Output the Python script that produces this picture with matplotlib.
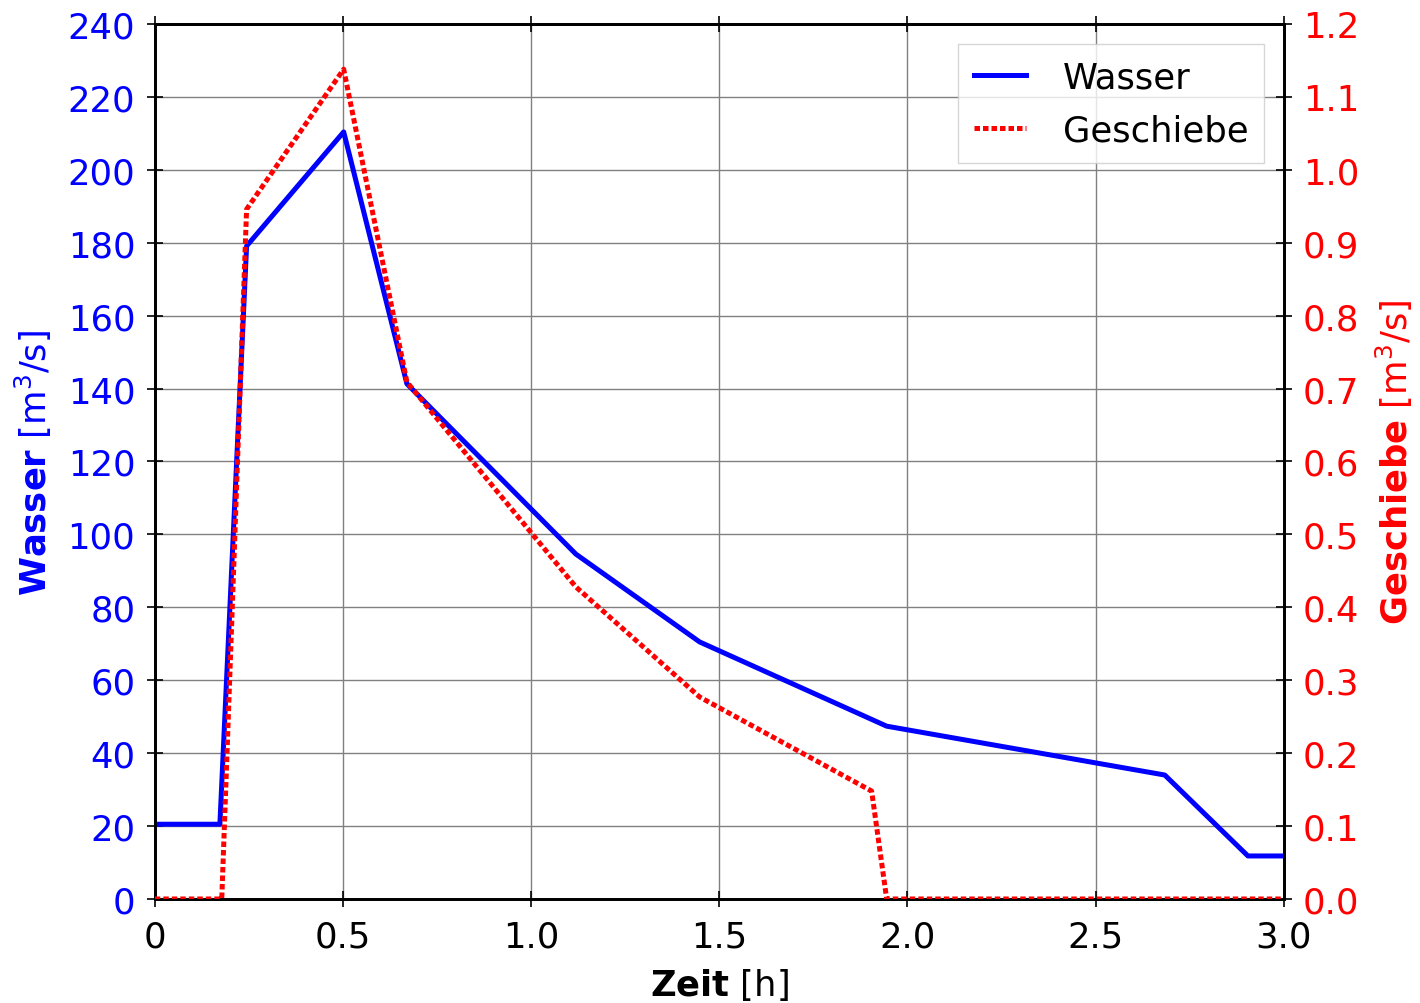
import numpy as np
import matplotlib
matplotlib.use("Agg")
import matplotlib.pyplot as plt

# Water discharge [m3/s]
t_wasser = [0.0, 0.173, 0.244, 0.502, 0.670, 1.119, 1.448, 1.945, 2.684, 2.905, 3.0]
q_wasser = [20.5, 20.5, 179.1, 210.4, 141.3, 94.6, 70.5, 47.4, 34.0, 11.8, 11.8]

# Bedload discharge [m3/s]
t_geschiebe = [0.0, 0.178, 0.244, 0.502, 0.670, 1.119, 1.448, 1.905, 1.945, 3.0]
q_geschiebe = [0.0, 0.0, 0.946, 1.138, 0.709, 0.428, 0.277, 0.148, 0.0, 0.0]

x_ticks = [0, 0.5, 1.0, 1.5, 2.0, 2.5, 3.0]
x_ticklabels = ["0", "0.5", "1.0", "1.5", "2.0", "2.5", "3.0"]
y1_ticks = list(range(0, 241, 20))
y2_ticks = [round(0.1 * i, 1) for i in range(13)]

fs = 25.5
plt.rcParams["font.family"] = ["DejaVu Sans"]
plt.rcParams["mathtext.fontset"] = "dejavusans"

fig = plt.figure(figsize=(14.2, 10.04), dpi=100)
ax = fig.add_axes([0.109, 0.1036, 0.795, 0.8715])
ax2 = ax.twinx()

l1, = ax.plot(t_wasser, q_wasser, color="blue", lw=3.6, label="Wasser", zorder=3)
l2, = ax2.plot(t_geschiebe, q_geschiebe, color="red", lw=3.6, ls=(0, (1.1, 0.6)),
	label="Geschiebe", zorder=3)

ax.set_xlim(0, 3.0)
ax.set_ylim(0, 240)
ax2.set_ylim(0, 1.2)
ax.set_xticks(x_ticks)
ax.set_xticklabels(x_ticklabels)
ax.set_yticks(y1_ticks)
ax2.set_yticks(y2_ticks)
ax2.set_yticklabels([f"{v:.1f}" for v in y2_ticks])

ax.grid(True, color="#808080", lw=1.0)
for a in (ax, ax2):
	for s in a.spines.values():
		s.set_linewidth(2.0)
ax.tick_params(axis="x", direction="inout", length=12, width=1.2, labelsize=fs, pad=9, top=True)
ax.tick_params(axis="y", direction="inout", length=12, width=1.2, labelsize=fs, labelcolor="blue", pad=8)
ax2.tick_params(axis="y", direction="inout", length=12, width=1.2, labelsize=fs, labelcolor="red", pad=8)

ax.set_xlabel(r"$\mathbf{Zeit}$ [h]", fontsize=fs, labelpad=9)
ax.set_ylabel(r"$\mathbf{Wasser}$ [m$^3$/s]", fontsize=fs, color="blue", labelpad=10)
ax2.set_ylabel(r"$\mathbf{Geschiebe}$ [m$^3$/s]", fontsize=fs, color="red", labelpad=10)

leg = ax2.legend([l1, l2], ["Wasser", "Geschiebe"], loc="upper right", fontsize=fs,
	frameon=True, fancybox=False, handlelength=1.45, handletextpad=1.05,
	labelspacing=0.55, borderpad=0.45, borderaxespad=0.0,
	bbox_to_anchor=(0.983, 0.977))
leg.get_frame().set_edgecolor("#cccccc")
leg.get_frame().set_linewidth(1.0)

fig.savefig("out.png", dpi=100)
